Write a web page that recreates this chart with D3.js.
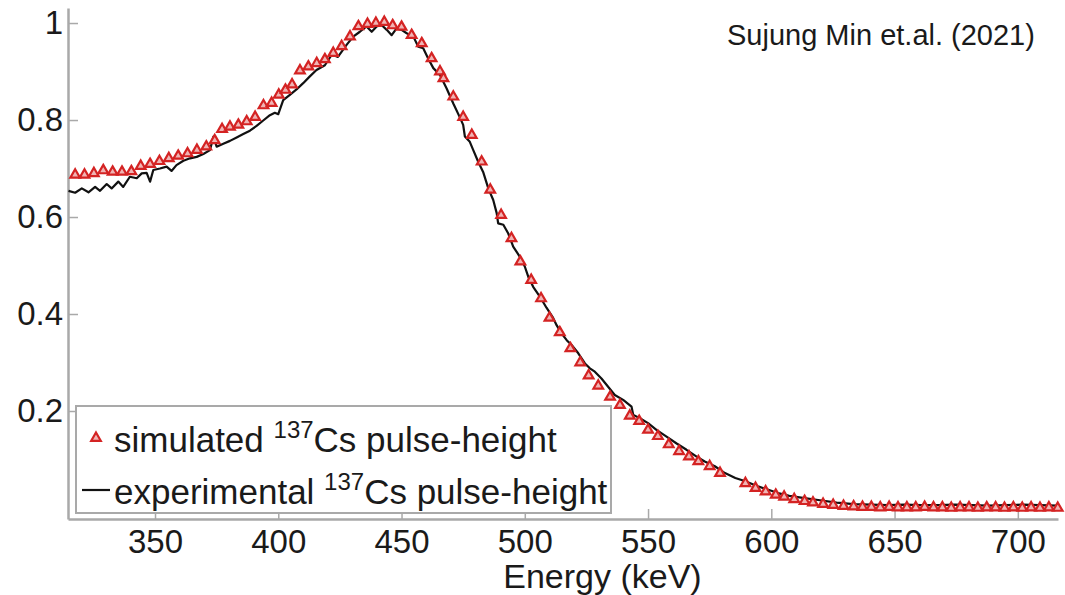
<!DOCTYPE html>
<html lang="en">
	<head>
		<meta charset="utf-8">
		<title>137Cs pulse-height spectrum</title>
		<script type="text/javascript" src="https://d3js.org/d3.v7.min.js"></script>
		<style>
			body { margin: 0; background: #fff; }
			svg { display: block; }
			text { font-family: "Liberation Sans", Arial, Helvetica, sans-serif; fill: #1a1a1a; }
			.axis path, .axis line { stroke: #a9a9a9; }
			.axis path { stroke-width: 2.5; }
			.axis line { stroke-width: 1.5; }
			.axis text { font-size: 33px; fill: #1a1a1a; }
		</style>
	</head>
	<body>
		<script type="text/javascript">

			// simulated 137Cs pulse-height (triangles)
			var simEnergy = [317.6, 321.4, 325.2, 329.0, 332.8, 336.6, 340.4, 344.2, 348.0, 351.8,
				355.6, 359.4, 363.2, 367.0, 370.8, 374.2, 377.2, 380.4, 383.8, 387.2,
				390.6, 394.0, 397.3, 400.2, 402.9, 405.6, 408.8, 412.2, 415.6, 418.9,
				422.3, 425.7, 429.1, 432.5, 436.2, 439.6, 443.0, 446.4, 450.0, 454.1,
				458.2, 462.2, 465.6, 467.0, 471.0, 475.0, 478.5, 482.5, 486.0, 490.4,
				494.6, 498.2, 502.6, 506.6, 510.0, 514.2, 518.5, 522.5, 525.9, 529.8,
				534.6, 538.6, 542.6, 546.4, 550.0, 554.0, 558.4, 562.6, 566.6, 570.4,
				575.0, 579.2, 589.5, 593.6, 597.7, 601.8, 605.2, 609.3, 613.5, 616.9,
				621.0, 625.1, 629.3, 633.4, 637.0, 640.6, 644.2, 647.8, 651.4, 655.0,
				658.6, 662.2, 665.8, 669.4, 673.0, 676.6, 680.2, 683.8, 687.4, 691.0,
				694.6, 698.2, 701.8, 705.4, 709.0, 712.6, 716.2];
			var simCounts = [0.687, 0.687, 0.690, 0.696, 0.693, 0.693, 0.694, 0.705, 0.709, 0.715,
				0.721, 0.726, 0.731, 0.738, 0.745, 0.758, 0.781, 0.786, 0.790, 0.797,
				0.806, 0.830, 0.835, 0.852, 0.862, 0.873, 0.902, 0.910, 0.917, 0.925,
				0.938, 0.952, 0.972, 0.993, 0.998, 1.000, 1.002, 0.995, 0.992, 0.975,
				0.958, 0.927, 0.900, 0.886, 0.848, 0.806, 0.769, 0.714, 0.656, 0.604,
				0.556, 0.508, 0.470, 0.432, 0.392, 0.362, 0.329, 0.300, 0.273, 0.252,
				0.229, 0.212, 0.190, 0.179, 0.161, 0.148, 0.131, 0.117, 0.106, 0.096,
				0.086, 0.072, 0.051, 0.041, 0.034, 0.027, 0.023, 0.018, 0.014, 0.011,
				0.008, 0.006, 0.004, 0.003, 0.002, 0.002, 0.001, 0.002, 0.001, 0.001,
				0.001, 0.002, 0.001, 0.001, 0.000, 0.001, 0.001, 0.000, 0.001, 0.001,
				0.000, 0.001, 0.000, 0.001, 0.000, 0.001, 0.000];

			// experimental 137Cs pulse-height (black line)
			var expEnergy = [314.9, 317.6, 320.3, 323.0, 325.7, 327.7, 330.4, 332.4, 335.1, 337.1,
				339.8, 342.6, 344.6, 346.6, 348.0, 349.3, 352.0, 354.7, 356.7, 358.7,
				361.5, 364.2, 366.9, 369.6, 372.3, 373.7, 375.0, 377.7, 380.4, 383.1,
				385.8, 388.5, 391.2, 393.9, 396.6, 398.6, 400.0, 402.0, 404.7, 407.4,
				410.1, 412.8, 415.5, 418.9, 421.7, 424.2, 427.7, 430.4, 433.1, 435.8,
				437.9, 439.9, 441.9, 444.0, 446.0, 448.0, 450.0, 452.1, 454.8, 456.8,
				458.8, 460.8, 462.9, 465.6, 468.3, 471.0, 473.7, 475.0, 475.7, 477.7,
				479.1, 481.1, 483.1, 485.2, 487.2, 488.6, 489.2, 491.3, 493.3, 495.3,
				498.0, 500.0, 501.4, 503.4, 506.1, 508.8, 511.5, 512.9, 514.9, 517.0,
				519.0, 521.7, 524.4, 526.4, 528.4, 531.1, 533.8, 536.5, 539.9, 543.3,
				544.0, 546.7, 550.0, 553.4, 557.5, 561.6, 565.6, 569.7, 573.0, 577.1,
				581.2, 585.4, 589.5, 594.9, 599.1, 603.2, 607.3, 612.8, 619.7, 626.5,
				633.4, 640.3, 647.1, 654.0, 660.8, 667.7, 674.5, 681.4, 688.2, 695.1,
				701.9, 708.8, 716.2];
			var expCounts = [0.654, 0.650, 0.659, 0.651, 0.662, 0.654, 0.668, 0.659, 0.673, 0.662,
				0.683, 0.680, 0.690, 0.691, 0.673, 0.697, 0.700, 0.704, 0.695, 0.707,
				0.716, 0.721, 0.724, 0.730, 0.738, 0.766, 0.745, 0.751, 0.757, 0.764,
				0.771, 0.778, 0.788, 0.799, 0.810, 0.815, 0.812, 0.841, 0.852, 0.863,
				0.876, 0.890, 0.903, 0.913, 0.935, 0.930, 0.955, 0.972, 0.982, 0.993,
				0.982, 0.993, 0.996, 0.986, 0.975, 0.989, 0.986, 0.979, 0.972, 0.951,
				0.948, 0.927, 0.907, 0.893, 0.865, 0.834, 0.805, 0.790, 0.766, 0.755,
				0.738, 0.714, 0.693, 0.659, 0.635, 0.608, 0.587, 0.584, 0.566, 0.539,
				0.518, 0.498, 0.477, 0.456, 0.436, 0.413, 0.392, 0.377, 0.360, 0.346,
				0.336, 0.319, 0.298, 0.288, 0.281, 0.267, 0.250, 0.233, 0.223, 0.209,
				0.192, 0.185, 0.175, 0.161, 0.147, 0.133, 0.120, 0.106, 0.096, 0.086,
				0.072, 0.062, 0.055, 0.044, 0.037, 0.030, 0.025, 0.021, 0.016, 0.011,
				0.008, 0.007, 0.006, 0.007, 0.006, 0.006, 0.007, 0.006, 0.005, 0.006,
				0.007, 0.006, 0.005];

			var xTicks = [350, 400, 450, 500, 550, 600, 650, 700];
			var yTicks = [0.2, 0.4, 0.6, 0.8, 1];
			var xLabel = "Energy (keV)";
			var citation = "Sujung Min et.al. (2021)";
			var legendNames = ["simulated", "experimental"];

			var red = "#d42323";

			// margin convention
			var margin = {top: 8, right: 7, bottom: 76, left: 68},
				w = 1065 - margin.left - margin.right,
				h = 595 - margin.top - margin.bottom;

			var sim = simEnergy.map(function(e, i) { return {x: e, y: simCounts[i]}; });
			var exp = expEnergy.map(function(e, i) { return {x: e, y: expCounts[i]}; });

			//Create scale functions
			var xScale = d3.scaleLinear()
						   .domain([314.7, 716.3])
						   .range([0, w]);

			var yScale = d3.scaleLinear()
						   .domain([-0.0227, 1.031])
						   .range([h, 0]);

			var svg = d3.select("body")
						.append("svg")
						.attr("width", w + margin.left + margin.right)
						.attr("height", h + margin.top + margin.bottom)
						.append("g")
						.attr("transform", "translate(" + margin.left + "," + margin.top + ")");

			// axes, ticks point into the plot
			var xAxis = d3.axisBottom(xScale)
						  .tickValues(xTicks)
						  .tickSizeInner(-10)
						  .tickSizeOuter(0)
						  .tickPadding(11)
						  .tickFormat(d3.format("d"));

			var yAxis = d3.axisLeft(yScale)
						  .tickValues(yTicks)
						  .tickSizeInner(-10)
						  .tickSizeOuter(0)
						  .tickPadding(5)
						  .tickFormat(function(d) { return d === 1 ? "1" : d3.format(".1f")(d); });

			svg.append("g")
				.attr("class", "axis")
				.attr("transform", "translate(0," + h + ")")
				.call(xAxis);

			svg.append("g")
				.attr("class", "axis")
				.call(yAxis);

			svg.selectAll(".axis .domain").attr("stroke", "#a9a9a9");

			// x label
			svg.append("text")
				.attr("x", xScale(531.5))
				.attr("y", h + 69)
				.attr("text-anchor", "middle")
				.style("font-size", "34px")
				.text(xLabel);

			// citation
			svg.append("text")
				.attr("x", 659)
				.attr("y", 37)
				.style("font-size", "29px")
				.text(citation);

			// experimental line
			var line = d3.line()
						 .x(function(d) { return xScale(d.x); })
						 .y(function(d) { return yScale(d.y); });

			svg.append("path")
				.datum(exp)
				.attr("d", line)
				.attr("fill", "none")
				.attr("stroke", "#111")
				.attr("stroke-width", 2.2)
				.attr("stroke-linejoin", "round");

			// simulated triangles
			var tri = d3.symbol().type(d3.symbolTriangle).size(40);

			svg.selectAll(".sim")
				.data(sim)
				.enter()
				.append("path")
				.attr("class", "sim")
				.attr("d", tri)
				.attr("transform", function(d) { return "translate(" + xScale(d.x) + "," + yScale(d.y) + ")"; })
				.attr("fill", "#f0b4b4")
				.attr("stroke", red)
				.attr("stroke-width", 2.2);

			// ------------------- legend -------------------
			var lg = svg.append("g")
						.attr("transform", "translate(8,398)");

			lg.append("rect")
				.attr("width", 535)
				.attr("height", 107)
				.attr("fill", "#fff")
				.attr("stroke", "#a9a9a9")
				.attr("stroke-width", 2);

			lg.append("path")
				.attr("d", tri)
				.attr("transform", "translate(20,32)")
				.attr("fill", "#f0b4b4")
				.attr("stroke", red)
				.attr("stroke-width", 2.2);

			lg.append("line")
				.attr("x1", 6).attr("x2", 34)
				.attr("y1", 84).attr("y2", 84)
				.attr("stroke", "#111")
				.attr("stroke-width", 2.2);

			var lt = lg.selectAll(".legend_labels")
					   .data(legendNames)
					   .enter()
					   .append("text")
					   .attr("class", "legend_labels")
					   .attr("x", 38)
					   .attr("y", function(d, i) { return 46 + i * 52; })
					   .style("font-size", "35px");

			lt.append("tspan").text(function(d) { return d + " "; });
			lt.append("tspan").attr("dy", -14).style("font-size", "24px").text("137");
			lt.append("tspan").attr("dy", 14).text("Cs pulse-height");

		</script>
	</body>
</html>
